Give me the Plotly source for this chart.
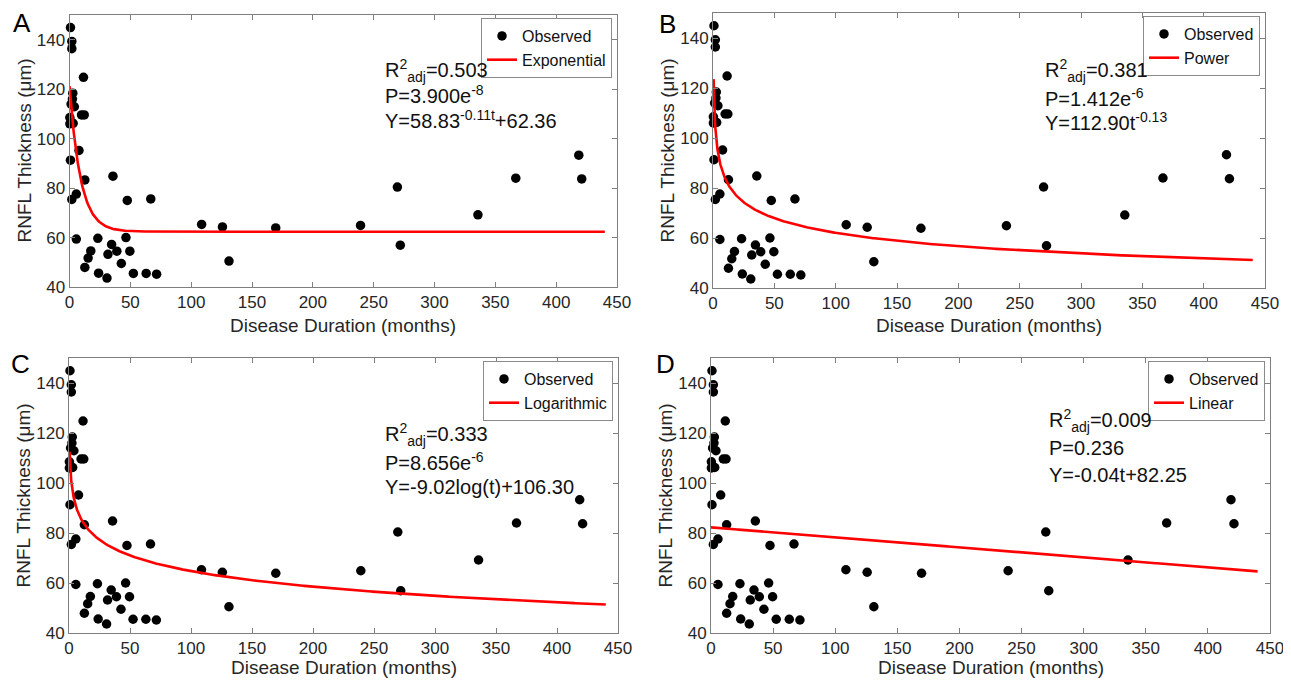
import numpy as np
import plotly.graph_objects as go

# ---------------- data ----------------
duration = [0.8, 1.9, 1.9, 11.5, 2.7, 2.4, 1.3, 4.0, 9.9, 12.1, 0.3, 0.3, 3.0,
            7.8, 0.8, 12.6, 35.7, 5.6, 1.9, 47.5, 66.8, 5.6, 23.3, 46.4, 34.6,
            17.5, 38.9, 49.6, 15.3, 31.6, 12.6, 42.6, 23.9, 30.8, 52.5, 63.0,
            71.6, 108.6, 125.7, 131.1, 169.5, 239.2, 269.5, 271.9, 335.7,
            366.8, 418.6, 421.0]
thickness = [144.9, 139.3, 136.4, 124.8, 118.4, 116.0, 114.0, 112.9, 109.6,
             109.6, 108.5, 106.0, 106.2, 95.2, 91.3, 83.3, 84.8, 77.6, 75.4,
             75.0, 75.6, 59.4, 59.7, 60.0, 57.2, 54.6, 54.5, 54.5, 51.7, 53.2,
             47.9, 49.5, 45.6, 43.6, 45.5, 45.5, 45.2, 65.3, 64.3, 50.5, 63.9,
             64.9, 80.4, 56.9, 69.2, 84.0, 93.3, 83.7]

panel_letters = ["A", "B", "C", "D"]
fit_names = ["Exponential", "Power", "Logarithmic", "Linear"]
r2_adj = ["0.503", "0.381", "0.333", "0.009"]
p_values = ["3.900e<sup>-8</sup>", "1.412e<sup>-6</sup>", "8.656e<sup>-6</sup>", "0.236"]
equations = ["Y=58.83<sup>-0.11t</sup>+62.36", "Y=112.90t<sup>-0.13</sup>",
             "Y=-9.02log(t)+106.30", "Y=-0.04t+82.25"]

# fitted-model coefficients (as printed on the chart)
exp_a, exp_b, exp_c = 58.83, -0.11, 62.36
pow_a, pow_b = 112.90, -0.13
log_a, log_b = -9.02, 106.30
lin_a, lin_b = -0.04, 82.25
t_end = 440.0

x_ticks = list(range(0, 451, 50))
y_ticks = list(range(40, 141, 20))

# ---------------- fitted curves ----------------
t0 = np.concatenate([np.linspace(0, 10, 200), np.linspace(10, t_end, 500)])
tp = np.concatenate([np.linspace(0.5, 10, 300), np.linspace(10, t_end, 500)])
curves = [
    (t0, exp_a * np.exp(exp_b * t0) + exp_c),
    (tp, pow_a * tp ** pow_b),
    (tp, log_a * np.log(tp) + log_b),
    (t0, lin_a * t0 + lin_b),
]

# ---------------- layout geometry (pixels in the 1291x684 page) ----------------
PAGE_PAD = 8                 # default body margin of the html page
W, H = 1291 - PAGE_PAD, 684 - PAGE_PAD
# (left, right, top, bottom) of each axes box
boxes = [(69.5, 617, 15, 287), (713, 1265, 13, 288),
         (69, 618, 358, 633), (711, 1270, 358, 633)]
xtitle_y = [325, 325, 667, 667]
stats_pos = [(383, [70, 95, 120]), (1043, [70, 97, 122]),
             (383, [435, 461, 487]), (1047, [421, 448, 475])]
letter_pos = [(22, 23), (667, 24), (20, 364), (665, 364)]


def fx(p):
    return (p - PAGE_PAD) / W


def fy(p):
    return 1 - (p - PAGE_PAD) / H


fig = go.Figure()
AX = "#7f7f7f"
FONT = "Liberation Sans, Arial, sans-serif"
annotations = []

for i in range(4):
    l, r, t, b = boxes[i]
    sfx = "" if i == 0 else str(i + 1)
    leg = "legend" + sfx
    fig.add_trace(go.Scatter(
        x=duration, y=thickness, mode="markers", name="Observed",
        marker=dict(color="black", size=9.5), cliponaxis=False,
        xaxis="x" + sfx, yaxis="y" + sfx, legend=leg))
    cx, cy = curves[i]
    fig.add_trace(go.Scatter(
        x=cx, y=cy, mode="lines", name=fit_names[i],
        line=dict(color="#ff0000", width=2.6),
        xaxis="x" + sfx, yaxis="y" + sfx, legend=leg))

    common = dict(showline=True, linecolor=AX, linewidth=1, mirror="ticks",
                  ticks="inside", ticklen=5, tickcolor=AX, showgrid=False,
                  zeroline=False, automargin=False,
                  tickfont=dict(size=17, color="#262626", family=FONT))
    fig.update_layout({
        "xaxis" + sfx: dict(domain=[fx(l), fx(r)], range=[0, 450], tickvals=x_ticks,
                            anchor="y" + sfx, **common),
        "yaxis" + sfx: dict(domain=[fy(b), fy(t)], range=[40, 150], tickvals=y_ticks,
                            anchor="x" + sfx, **common),
        leg: dict(x=fx(r - 5), y=fy(t + 3), xanchor="right", yanchor="top",
                  bgcolor="white", bordercolor="#8a8a8a", borderwidth=1,
                  font=dict(size=16, color="#111", family=FONT),
                  tracegroupgap=0, itemwidth=30),
    })

    # axis titles
    annotations.append(dict(text="RNFL Thickness (μm)", x=fx(l - 46), y=fy((t + b) / 2),
                            xref="paper", yref="paper", textangle=-90, showarrow=False,
                            font=dict(size=19, color="#262626", family=FONT),
                            xanchor="center", yanchor="middle"))
    annotations.append(dict(text="Disease Duration (months)", x=fx((l + r) / 2),
                            y=fy(xtitle_y[i]), xref="paper", yref="paper", showarrow=False,
                            font=dict(size=19, color="#262626", family=FONT),
                            xanchor="center", yanchor="middle"))
    # panel letter
    lx, ly = letter_pos[i]
    annotations.append(dict(text=panel_letters[i], x=fx(lx), y=fy(ly), xref="paper",
                            yref="paper", showarrow=False, xanchor="center", yanchor="middle",
                            font=dict(size=26, color="black", family=FONT)))
    # statistics
    sx, sys_ = stats_pos[i]
    lines = ["R<sup>2</sup><sub>adj</sub>=" + r2_adj[i], "P=" + p_values[i], equations[i]]
    for txt, yy in zip(lines, sys_):
        annotations.append(dict(text=txt, x=fx(sx), y=fy(yy), xref="paper", yref="paper",
                                showarrow=False, xanchor="left", yanchor="middle",
                                font=dict(size=20, color="#111", family=FONT)))

fig.update_layout(
    width=W, height=H, margin=dict(l=0, r=0, t=0, b=0, autoexpand=False),
    paper_bgcolor="white", plot_bgcolor="white",
    font=dict(family=FONT), annotations=annotations, showlegend=True,
)

fig.write_html("out.html")
